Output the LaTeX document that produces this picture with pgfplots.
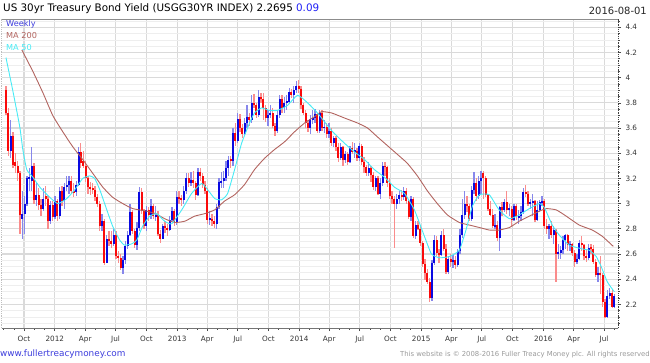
\documentclass[border=0pt]{standalone}
\usepackage{pgfplots}
\pgfplotsset{compat=1.18}
\usepackage{pgfplotstable}
\usepackage{fontspec}
\setmainfont{DejaVu Sans}
\definecolor{upbody}{RGB}{10,10,225}
\definecolor{upwick}{RGB}{135,135,235}
\definecolor{dnbody}{RGB}{250,10,10}
\definecolor{dnwick}{RGB}{250,140,140}
\definecolor{maA}{RGB}{178,100,95}
\definecolor{maB}{RGB}{70,235,245}
\definecolor{legblue}{RGB}{60,60,220}
\definecolor{titleblue}{RGB}{30,30,245}
\definecolor{gridmaj}{RGB}{218,218,218}
\definecolor{gridmin}{RGB}{238,238,238}

\pgfplotstableread{
i o h l c
0 3.90 3.93 3.70 3.72
1 3.72 3.76 3.38 3.42
2 3.42 3.66 3.36 3.54
3 3.54 3.57 3.28 3.31
4 3.33 3.40 3.24 3.30
5 3.30 3.34 3.18 3.24
6 3.24 3.26 2.76 2.91
7 2.88 3.10 2.72 2.92
8 2.92 3.06 2.76 3.00
9 3.00 3.22 2.98 3.20
10 3.20 3.28 3.10 3.21
11 3.18 3.45 3.10 3.30
12 3.30 3.32 3.00 3.03
13 3.03 3.16 2.98 3.07
14 3.07 3.12 2.95 2.99
15 2.99 3.04 2.90 2.96
16 2.96 3.12 2.94 3.04
17 3.06 3.14 2.98 3.04
18 3.04 3.06 2.80 2.86
19 2.86 3.02 2.84 2.99
20 2.99 3.02 2.86 2.89
21 2.89 3.06 2.88 3.02
22 3.02 3.04 2.86 2.90
23 2.90 3.13 2.88 3.10
24 3.10 3.14 2.98 3.02
25 3.02 3.16 2.96 3.13
26 3.13 3.22 3.10 3.15
27 3.15 3.22 3.08 3.18
28 3.18 3.22 3.08 3.10
29 3.10 3.16 3.05 3.09
30 3.09 3.18 3.06 3.15
31 3.15 3.45 3.14 3.41
32 3.41 3.48 3.28 3.32
33 3.34 3.42 3.28 3.30
34 3.30 3.34 3.17 3.20
35 3.20 3.22 3.08 3.13
36 3.13 3.17 3.07 3.12
37 3.12 3.16 3.08 3.11
38 3.11 3.14 3.02 3.05
39 3.05 3.08 2.97 3.00
40 3.00 3.02 2.78 2.82
41 2.82 2.92 2.78 2.86
42 2.86 2.88 2.51 2.53
43 2.53 2.75 2.53 2.72
44 2.72 2.78 2.66 2.70
45 2.70 2.78 2.65 2.68
46 2.68 2.80 2.66 2.75
47 2.75 2.78 2.56 2.58
48 2.58 2.62 2.53 2.57
49 2.57 2.60 2.47 2.49
50 2.49 2.58 2.44 2.55
51 2.55 2.70 2.52 2.66
52 2.66 2.78 2.64 2.75
53 2.75 3.00 2.74 2.93
54 2.93 2.95 2.76 2.78
55 2.78 2.80 2.65 2.67
56 2.67 2.85 2.63 2.81
57 2.81 3.13 2.78 3.09
58 3.09 3.12 2.92 2.94
59 2.94 2.96 2.80 2.82
60 2.82 2.98 2.78 2.95
61 2.95 2.97 2.86 2.91
62 2.91 3.04 2.88 2.98
63 2.98 3.00 2.88 2.90
64 2.90 2.98 2.86 2.91
65 2.91 2.94 2.74 2.76
66 2.76 2.79 2.69 2.72
67 2.72 2.84 2.72 2.82
68 2.82 2.86 2.77 2.81
69 2.81 2.84 2.74 2.79
70 2.79 2.90 2.78 2.87
71 2.87 2.97 2.86 2.94
72 2.94 2.96 2.82 2.85
73 2.85 3.10 2.83 3.05
74 3.05 3.10 3.00 3.04
75 3.04 3.07 2.98 3.03
76 3.03 3.14 3.00 3.10
77 3.10 3.24 3.08 3.20
78 3.20 3.24 3.13 3.16
79 3.16 3.25 3.14 3.19
80 3.19 3.26 3.12 3.16
81 3.16 3.18 3.03 3.07
82 3.07 3.28 3.06 3.25
83 3.25 3.28 3.18 3.22
84 3.22 3.24 3.12 3.15
85 3.15 3.18 3.08 3.10
86 3.10 3.12 2.84 2.87
87 2.87 2.94 2.83 2.88
88 2.88 2.92 2.82 2.86
89 2.86 2.90 2.81 2.84
90 2.84 3.00 2.80 2.97
91 2.97 3.20 2.96 3.17
92 3.17 3.25 3.12 3.18
93 3.18 3.26 3.12 3.20
94 3.20 3.34 3.18 3.28
95 3.28 3.38 3.22 3.35
96 3.35 3.38 3.28 3.34
97 3.34 3.60 3.30 3.56
98 3.56 3.64 3.46 3.50
99 3.50 3.72 3.48 3.67
100 3.67 3.71 3.57 3.60
101 3.60 3.63 3.52 3.55
102 3.55 3.68 3.54 3.64
103 3.64 3.78 3.60 3.69
104 3.69 3.72 3.62 3.66
105 3.66 3.86 3.64 3.80
106 3.80 3.87 3.76 3.78
107 3.78 3.80 3.68 3.70
108 3.70 3.90 3.69 3.85
109 3.85 3.88 3.80 3.83
110 3.83 3.88 3.66 3.76
111 3.76 3.78 3.65 3.68
112 3.68 3.74 3.62 3.70
113 3.70 3.78 3.68 3.72
114 3.72 3.76 3.60 3.62
115 3.62 3.64 3.54 3.58
116 3.58 3.74 3.56 3.70
117 3.70 3.86 3.68 3.83
118 3.83 3.86 3.72 3.76
119 3.76 3.85 3.72 3.80
120 3.80 3.86 3.74 3.81
121 3.81 3.92 3.80 3.89
122 3.89 3.91 3.84 3.86
123 3.86 3.93 3.80 3.90
124 3.90 3.97 3.88 3.93
125 3.93 3.98 3.88 3.91
126 3.91 3.93 3.75 3.78
127 3.78 3.80 3.70 3.72
128 3.72 3.74 3.60 3.64
129 3.64 3.66 3.57 3.60
130 3.60 3.70 3.55 3.67
131 3.67 3.74 3.63 3.68
132 3.68 3.75 3.64 3.71
133 3.71 3.72 3.56 3.58
134 3.58 3.74 3.56 3.72
135 3.72 3.74 3.58 3.60
136 3.60 3.66 3.56 3.61
137 3.61 3.64 3.52 3.55
138 3.55 3.64 3.52 3.58
139 3.58 3.60 3.46 3.48
140 3.48 3.54 3.45 3.52
141 3.52 3.54 3.42 3.45
142 3.45 3.48 3.33 3.36
143 3.36 3.48 3.35 3.45
144 3.45 3.46 3.30 3.35
145 3.35 3.42 3.32 3.39
146 3.39 3.41 3.31 3.33
147 3.33 3.46 3.32 3.44
148 3.44 3.49 3.39 3.41
149 3.41 3.48 3.36 3.42
150 3.42 3.44 3.34 3.36
151 3.36 3.48 3.34 3.46
152 3.46 3.47 3.31 3.33
153 3.33 3.37 3.24 3.29
154 3.29 3.31 3.22 3.24
155 3.24 3.33 3.22 3.28
156 3.28 3.30 3.17 3.23
157 3.23 3.25 3.11 3.13
158 3.13 3.22 3.10 3.20
159 3.20 3.22 3.07 3.08
160 3.08 3.20 3.04 3.16
161 3.16 3.33 3.14 3.30
162 3.30 3.33 3.22 3.29
163 3.29 3.30 3.13 3.16
164 3.16 3.20 3.04 3.06
165 3.06 3.10 3.00 3.04
166 3.04 3.06 2.65 3.00
167 3.00 3.08 2.96 3.04
168 3.04 3.10 3.00 3.07
169 3.07 3.11 3.02 3.05
170 3.05 3.13 3.03 3.10
171 3.10 3.12 3.00 3.02
172 3.02 3.04 2.88 2.89
173 2.89 3.06 2.86 3.04
174 3.04 3.05 2.73 2.74
175 2.74 2.86 2.72 2.83
176 2.83 2.86 2.79 2.80
177 2.80 2.82 2.66 2.69
178 2.69 2.70 2.50 2.52
179 2.52 2.56 2.39 2.45
180 2.45 2.48 2.36 2.38
181 2.38 2.41 2.22 2.25
182 2.25 2.55 2.23 2.53
183 2.53 2.75 2.51 2.71
184 2.71 2.74 2.58 2.61
185 2.61 2.64 2.53 2.59
186 2.59 2.78 2.58 2.75
187 2.75 2.80 2.62 2.64
188 2.64 2.68 2.44 2.46
189 2.46 2.58 2.44 2.56
190 2.56 2.60 2.50 2.54
191 2.54 2.59 2.49 2.55
192 2.55 2.58 2.48 2.51
193 2.51 2.64 2.50 2.62
194 2.62 2.80 2.60 2.75
195 2.75 3.04 2.73 2.91
196 2.91 3.10 2.88 3.00
197 3.00 3.06 2.93 2.98
198 2.98 3.00 2.86 2.88
199 2.88 3.14 2.86 3.11
200 3.11 3.25 3.08 3.16
201 3.16 3.20 3.02 3.06
202 3.06 3.22 3.04 3.18
203 3.18 3.26 3.08 3.20
204 3.24 3.26 3.04 3.20
205 3.20 3.22 3.05 3.07
206 3.07 3.08 2.94 2.96
207 2.96 3.02 2.90 2.91
208 2.91 2.96 2.81 2.82
209 2.82 2.92 2.80 2.83
210 2.83 2.86 2.70 2.73
211 2.73 2.98 2.62 2.97
212 2.97 3.01 2.90 2.95
213 2.95 3.04 2.93 3.01
214 3.01 3.10 2.92 2.95
215 2.95 3.00 2.90 2.96
216 2.96 2.98 2.82 2.87
217 2.87 3.00 2.86 2.98
218 2.98 3.00 2.87 2.89
219 2.89 2.95 2.84 2.90
220 2.90 2.98 2.86 2.93
221 2.93 3.12 2.92 3.09
222 3.09 3.15 3.05 3.08
223 3.08 3.10 2.98 3.00
224 3.00 3.04 2.96 3.01
225 3.01 3.08 2.90 3.02
226 3.02 3.03 2.85 2.87
227 2.87 3.02 2.86 2.95
228 2.95 3.03 2.93 3.01
229 3.01 3.06 2.98 3.02
230 3.02 3.04 2.80 2.82
231 2.82 2.88 2.76 2.80
232 2.80 2.84 2.72 2.82
233 2.82 2.86 2.73 2.75
234 2.75 2.82 2.68 2.79
235 2.79 2.80 2.38 2.60
236 2.60 2.68 2.56 2.61
237 2.61 2.66 2.56 2.63
238 2.63 2.74 2.60 2.71
239 2.71 2.76 2.64 2.75
240 2.75 2.76 2.62 2.67
241 2.67 2.70 2.62 2.68
242 2.68 2.69 2.58 2.61
243 2.61 2.63 2.50 2.54
244 2.54 2.60 2.52 2.56
245 2.56 2.71 2.55 2.69
246 2.69 2.74 2.62 2.67
247 2.67 2.68 2.55 2.58
248 2.58 2.63 2.54 2.57
249 2.57 2.68 2.55 2.65
250 2.65 2.68 2.60 2.64
251 2.64 2.67 2.52 2.54
252 2.54 2.56 2.42 2.43
253 2.43 2.50 2.38 2.45
254 2.45 2.58 2.28 2.43
255 2.43 2.45 2.18 2.22
256 2.22 2.24 2.09 2.10
257 2.10 2.31 2.09 2.27
258 2.27 2.33 2.24 2.29
259 2.29 2.31 2.17 2.18
260 2.18 2.28 2.17 2.27
}\weekly

\begin{document}
\begin{tikzpicture}
\useasboundingbox (0,0) rectangle (650bp,363bp);
\begin{axis}[
  at={(1.5bp,35bp)}, anchor=south west,
  scale only axis, width=616.5bp, height=309bp,
  xmin=-1.9, xmax=261.5, ymin=2.012, ymax=4.466,
  axis x line=bottom, axis y line=right,
  x axis line style={-, draw=black!55, line width=1bp},
  y axis line style={-, draw=black!75, line width=0.8bp, densely dotted},
  tick align=outside,
  major tick length=3bp, minor tick length=1.8bp,
  tick style={draw=black!70, line width=0.6bp},
  xtick={7.71,20.86,33.86,46.86,60,73.14,86,99,112.14,125.29,138.14,151.14,164.29,177.43,190.29,203.29,216.43,229.57,242.57,255.57},
  xticklabels={Oct,2012,Apr,Jul,Oct,2013,Apr,Jul,Oct,2014,Apr,Jul,Oct,2015,Apr,Jul,Oct,2016,Apr,Jul},
  minor xtick={-1,3.43,12.14,16.57,25.29,29.43,38.14,42.57,51.29,55.71,64.29,68.57,77.57,81.57,90.29,94.71,103.43,107.86,116.57,120.86,129.71,133.71,142.43,146.86,155.57,160,168.57,172.86,181.86,185.86,194.57,199,207.71,212.14,220.71,225,234,238.14,246.86,251.29,260},
  ytick={2.2,2.4,2.6,2.8,3.0,3.2,3.4,3.6,3.8,4.0,4.2,4.4},
  yticklabels={2.2,2.4,2.6,2.8,3,3.2,3.4,3.6,3.8,4,4.2,4.4},
  minor ytick={2.05,2.1,2.15,2.25,2.3,2.35,2.45,2.5,2.55,2.65,2.7,2.75,2.85,2.9,2.95,3.05,3.1,3.15,3.25,3.3,3.35,3.45,3.5,3.55,3.65,3.7,3.75,3.85,3.9,3.95,4.05,4.1,4.15,4.25,4.3,4.35,4.45},
  xmajorgrids, ymajorgrids, yminorgrids,
  major grid style={draw=gridmaj, line width=1.1bp, solid},
  minor grid style={draw=gridmin, line width=0.7bp, solid},
  ticklabel style={font=\fontsize{7.3}{8}\selectfont, text=black!80},
  xticklabel style={yshift=-1.5bp},
  yticklabel style={xshift=1bp},
  clip=true,
]
% wicks, up weeks
\addplot[draw=none, mark=none, forget plot,
  error bars/.cd, y dir=both, y explicit, error mark=none,
  error bar style={line width=1.3bp, draw=upwick, solid}]
  table[x=i, y expr={(\thisrow{h}+\thisrow{l})/2}, y error expr={(\thisrow{h}-\thisrow{l})/2},
  restrict expr to domain={\thisrow{c}-\thisrow{o}}{0:5}] {\weekly};
% wicks, down weeks
\addplot[draw=none, mark=none, forget plot,
  error bars/.cd, y dir=both, y explicit, error mark=none,
  error bar style={line width=1.3bp, draw=dnwick, solid}]
  table[x=i, y expr={(\thisrow{h}+\thisrow{l})/2}, y error expr={(\thisrow{h}-\thisrow{l})/2},
  restrict expr to domain={\thisrow{c}-\thisrow{o}}{-5:-0.0001}] {\weekly};
% bodies, up weeks
\addplot[draw=none, mark=none, forget plot,
  error bars/.cd, y dir=both, y explicit, error mark=none,
  error bar style={line width=2bp, draw=upbody, solid}]
  table[x=i, y expr={(\thisrow{o}+\thisrow{c})/2}, y error expr={max(abs(\thisrow{c}-\thisrow{o})/2,0.007)},
  restrict expr to domain={\thisrow{c}-\thisrow{o}}{0:5}] {\weekly};
% bodies, down weeks
\addplot[draw=none, mark=none, forget plot,
  error bars/.cd, y dir=both, y explicit, error mark=none,
  error bar style={line width=2bp, draw=dnbody, solid}]
  table[x=i, y expr={(\thisrow{o}+\thisrow{c})/2}, y error expr={max(abs(\thisrow{c}-\thisrow{o})/2,0.007)},
  restrict expr to domain={\thisrow{c}-\thisrow{o}}{-5:-0.0001}] {\weekly};
% MA 200
\addplot[maA, line width=0.9bp, smooth, tension=0.3, mark=none] coordinates {
(6.8,4.22) (11.5,4.05) (15.8,3.88) (20.0,3.70) (24.3,3.57) (28.6,3.45) (32.8,3.35) (37.1,3.24) (41.4,3.13) (45.6,3.05) (49.9,3.00) (54.2,2.96) (60.1,2.94) (64,2.92) (67.8,2.88) (72.1,2.85) (76.4,2.86) (80.6,2.90) (84.9,2.92) (89.2,2.95) (93.4,3.02) (97.7,3.07) (101.9,3.15) (106.2,3.27) (110.5,3.36) (114.8,3.43) (119.0,3.49) (123.3,3.57) (127.6,3.64) (131.8,3.69) (134.8,3.73) (139.1,3.72) (144.6,3.68) (150.2,3.64) (154.5,3.60) (158.7,3.53) (163.0,3.46) (167.3,3.39) (171.5,3.32) (175.8,3.22) (180.1,3.10) (184.3,3.00) (188.6,2.91) (193.7,2.85) (197.9,2.83) (202.3,2.81) (206.5,2.79) (210.7,2.79) (215.1,2.81) (219.3,2.86) (223.6,2.90) (227.9,2.94) (230.9,2.96) (235.1,2.95) (239.4,2.90) (244.9,2.83) (250.5,2.79) (254.8,2.74) (259.5,2.66)
};
% MA 50
\addplot[maB, line width=0.9bp, smooth, tension=0.3, mark=none] coordinates {
(0,4.16) (2.9,3.90) (5.9,3.61) (7.2,3.43) (8.9,3.27) (11.5,3.21) (14.5,3.13) (18.7,3.05) (22.2,3.00) (26.0,3.04) (29.4,3.11) (32.8,3.20) (35.8,3.22) (37.9,3.20) (40.1,3.11) (43.1,2.95) (45.6,2.82) (48.6,2.71) (50.7,2.67) (53.7,2.68) (55.9,2.71) (58.4,2.82) (61.4,2.90) (64.4,2.92) (67.8,2.86) (70.8,2.84) (75.1,2.95) (79.3,3.08) (83.6,3.16) (86.2,3.11) (89.2,3.04) (92.1,3.03) (94.7,3.08) (97.7,3.27) (100.7,3.48) (104.1,3.64) (106.2,3.72) (109.2,3.76) (112.6,3.74) (116.0,3.74) (120.3,3.78) (124.6,3.86) (128.9,3.80) (133.1,3.72) (139.1,3.58) (144.6,3.48) (148.9,3.41) (153.2,3.35) (157.4,3.27) (161.7,3.21) (166.0,3.13) (170.3,3.08) (174.5,2.95) (178.8,2.74) (181.8,2.60) (185.2,2.57) (189.5,2.58) (193.7,2.63) (196.7,2.80) (199.3,2.98) (202.3,3.07) (206.5,3.07) (210.7,2.95) (215.1,2.88) (219.3,2.91) (223.6,2.96) (227.9,3.00) (230.0,2.97) (233.4,2.83) (236.4,2.75) (240.7,2.67) (246.2,2.64) (249.2,2.63) (252.2,2.58) (254.3,2.50) (256.9,2.38) (259.5,2.31) (260,2.30)
};
\draw[black!45, line width=0.9bp] (rel axis cs:0,1) -- (rel axis cs:1,1);
\draw[black!70, line width=0.8bp, densely dotted] (rel axis cs:0,0) -- (rel axis cs:0,1);
\end{axis}
% titles and legend
\node[anchor=base west, inner sep=0pt] at (3bp,351.5bp) {\fontsize{10.4}{12}\selectfont US 30yr Treasury Bond Yield (USGG30YR INDEX) 2.2695 \textcolor{titleblue}{0.09}};
\node[anchor=base east, inner sep=0pt] at (647bp,348bp) {\fontsize{10}{12}\selectfont\color{black!85}2016-08-01};
\node[anchor=base west, inner sep=0pt] at (6bp,336bp) {\fontsize{8.2}{10}\selectfont\color{legblue}Weekly};
\node[anchor=base west, inner sep=0pt] at (6bp,324bp) {\fontsize{8.2}{10}\selectfont\color{maA}MA 200};
\node[anchor=base west, inner sep=0pt] at (6bp,312bp) {\fontsize{8.2}{10}\selectfont\color{maB}MA 50};
\node[anchor=base west, inner sep=0pt] at (0bp,7bp) {\fontsize{8.9}{10}\selectfont\color{legblue}www.fullertreacymoney.com};
\node[anchor=base east, inner sep=0pt] at (650bp,6.8bp) {\fontsize{6.9}{8}\selectfont\color{black!40}This website is © 2008-2016 Fuller Treacy Money plc. All rights reserved};
\end{tikzpicture}
\end{document}
